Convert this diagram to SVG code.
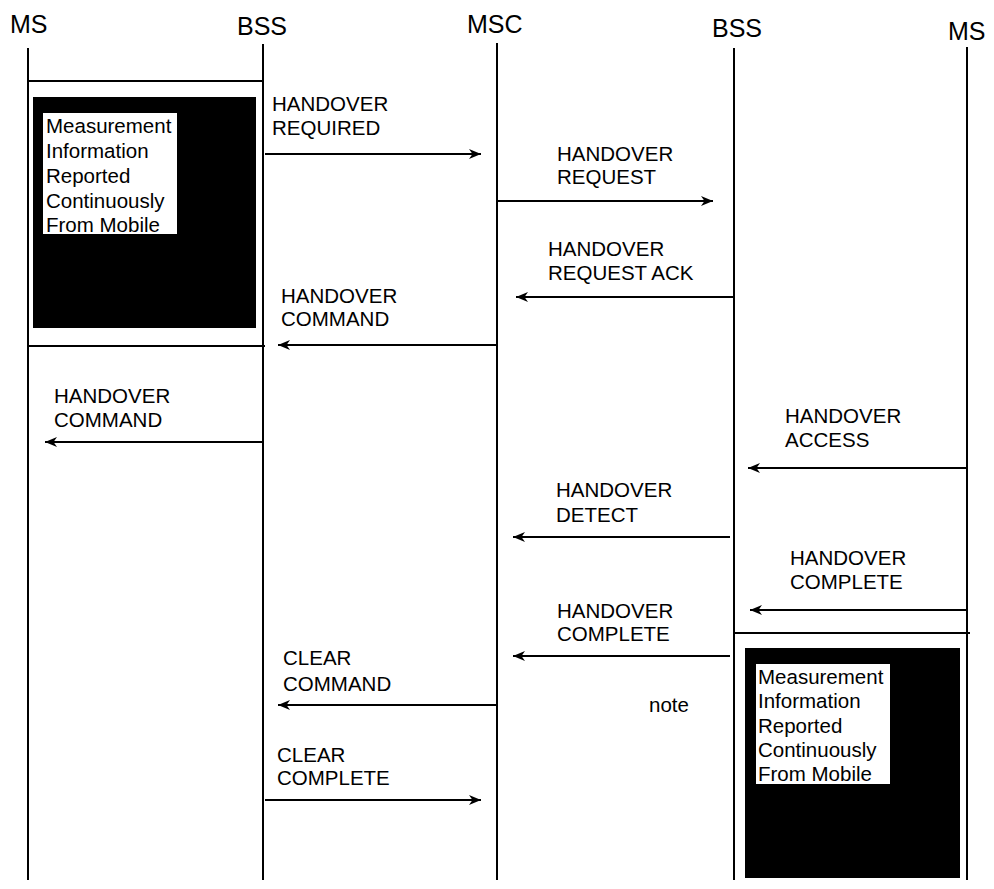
<svg xmlns="http://www.w3.org/2000/svg" width="994" height="889" viewBox="0 0 994 889">
<style>
text{font-family:"Liberation Sans",Arial,sans-serif;fill:#000}
.hd{font-size:25px}
.lb{font-size:20.5px}
.life{stroke:#000;stroke-width:2;fill:none}
.msg{stroke:#000;stroke-width:2.2;fill:none;marker-end:url(#ah)}
.frame{stroke:#000;stroke-width:2;fill:none}
</style>
<defs>
<marker id="ah" viewBox="0 0 12 10" refX="12" refY="5" markerWidth="12" markerHeight="10" orient="auto" markerUnits="userSpaceOnUse">
<path d="M0,0 L12,5 L0,10 L3.5,5 z" fill="#000"/>
</marker>
</defs>
<rect width="994" height="889" fill="#fff"/>

<g id="ms-left">
<text class="hd" x="10" y="33">MS</text>
<line class="life" x1="28" y1="48" x2="28" y2="880"/>
</g>
<g id="bss-left">
<text class="hd" x="237" y="35">BSS</text>
<line class="life" x1="263" y1="44" x2="263" y2="880"/>
</g>
<g id="msc">
<text class="hd" x="467" y="33">MSC</text>
<line class="life" x1="497" y1="43" x2="497" y2="880"/>
</g>
<g id="bss-right">
<text class="hd" x="712" y="37">BSS</text>
<line class="life" x1="734" y1="48" x2="734" y2="880"/>
</g>
<g id="ms-right">
<text class="hd" x="948" y="40">MS</text>
<line class="life" x1="967" y1="47" x2="967" y2="880"/>
</g>

<g id="measure-left">
<line class="frame" x1="28" y1="81" x2="263" y2="81"/>
<line class="frame" x1="28" y1="346" x2="265" y2="346"/>
<rect x="33" y="97" width="223" height="231" fill="#000"/>
<rect x="43" y="113" width="134" height="121" fill="#fff"/>
<text class="lb" x="46" y="133">Measurement</text>
<text class="lb" x="46" y="158">Information</text>
<text class="lb" x="46" y="183">Reported</text>
<text class="lb" x="46" y="208">Continuously</text>
<text class="lb" x="46" y="232">From Mobile</text>
</g>

<g id="measure-right">
<line class="frame" x1="734" y1="633" x2="970" y2="633"/>
<rect x="745" y="648" width="215" height="230" fill="#000"/>
<rect x="756" y="664" width="134" height="120" fill="#fff"/>
<text class="lb" x="758" y="684">Measurement</text>
<text class="lb" x="758" y="708">Information</text>
<text class="lb" x="758" y="733">Reported</text>
<text class="lb" x="758" y="757">Continuously</text>
<text class="lb" x="758" y="781">From Mobile</text>
</g>

<g id="note">
<text class="lb" x="649" y="712">note</text>
</g>

<g id="connectors">
<line class="msg" x1="265" y1="154" x2="481" y2="154"/>
<line class="msg" x1="497" y1="201" x2="713" y2="201"/>
<line class="msg" x1="734" y1="297" x2="516" y2="297"/>
<line class="msg" x1="497" y1="345" x2="278" y2="345"/>
<line class="msg" x1="263" y1="442" x2="45" y2="442"/>
<line class="msg" x1="967" y1="468" x2="748" y2="468"/>
<line class="msg" x1="730" y1="537" x2="513" y2="537"/>
<line class="msg" x1="967" y1="610" x2="750" y2="610"/>
<line class="msg" x1="730" y1="656" x2="513" y2="656"/>
<line class="msg" x1="497" y1="705" x2="278" y2="705"/>
<line class="msg" x1="265" y1="800" x2="481" y2="800"/>

<text class="lb" x="272" y="111">HANDOVER</text>
<text class="lb" x="272" y="135">REQUIRED</text>
<text class="lb" x="557" y="161">HANDOVER</text>
<text class="lb" x="557" y="184">REQUEST</text>
<text class="lb" x="548" y="256">HANDOVER</text>
<text class="lb" x="548" y="280">REQUEST ACK</text>
<text class="lb" x="281" y="303">HANDOVER</text>
<text class="lb" x="281" y="326">COMMAND</text>
<text class="lb" x="54" y="403">HANDOVER</text>
<text class="lb" x="54" y="427">COMMAND</text>
<text class="lb" x="785" y="423">HANDOVER</text>
<text class="lb" x="785" y="447">ACCESS</text>
<text class="lb" x="556" y="497">HANDOVER</text>
<text class="lb" x="556" y="522">DETECT</text>
<text class="lb" x="790" y="565">HANDOVER</text>
<text class="lb" x="790" y="589">COMPLETE</text>
<text class="lb" x="557" y="618">HANDOVER</text>
<text class="lb" x="557" y="641">COMPLETE</text>
<text class="lb" x="283" y="665">CLEAR</text>
<text class="lb" x="283" y="691">COMMAND</text>
<text class="lb" x="277" y="762">CLEAR</text>
<text class="lb" x="277" y="785">COMPLETE</text>
</g>
</svg>
